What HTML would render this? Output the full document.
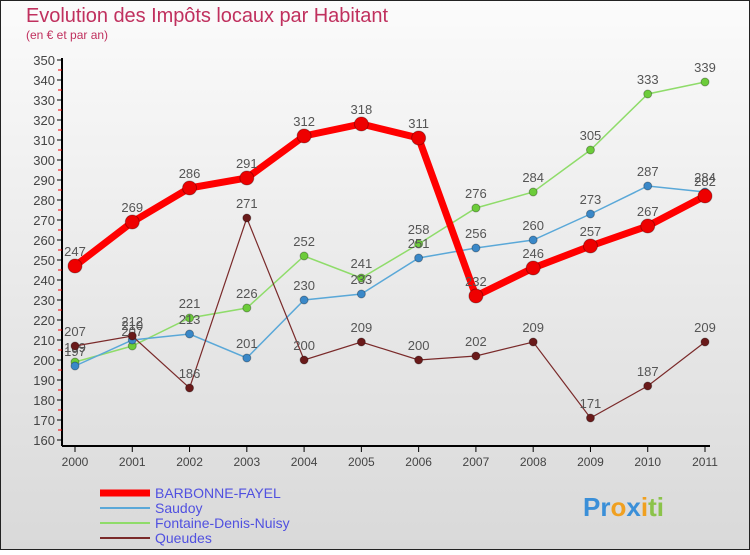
<!DOCTYPE html>
<html><head><meta charset="utf-8"><style>
body{margin:0;width:750px;height:550px;overflow:hidden;font-family:"Liberation Sans",sans-serif}
</style></head><body>
<svg id="c" width="750" height="550" xmlns="http://www.w3.org/2000/svg">
<defs><linearGradient id="bg" x1="0" y1="0" x2="0" y2="1"><stop offset="0" stop-color="#fbfbfb"/><stop offset="1" stop-color="#d9d9d9"/></linearGradient></defs>
<rect x="0.5" y="0.5" width="749" height="549" fill="url(#bg)" stroke="#222"/>
<text x="26" y="22" font-size="20" fill="#c0305e" textLength="362">Evolution des Impôts locaux par Habitant</text>
<text x="26" y="39" font-size="12" fill="#c0305e">(en € et par an)</text>
<g id="axes"></g><g id="series"></g><g id="legend"></g>
<text x="583" y="516" font-size="26" font-weight="bold"><tspan fill="#3a8fd8">Pr</tspan><tspan fill="#f0a020">o</tspan><tspan fill="#3a8fd8">x</tspan><tspan fill="#f0a020">i</tspan><tspan fill="#8bc34a">ti</tspan></text>
</svg>
<script>
const years=[2000,2001,2002,2003,2004,2005,2006,2007,2008,2009,2010,2011];
const barbonne=[247,269,286,291,312,318,311,232,246,257,267,282];
const saudoy=[197,210,213,201,230,233,251,256,260,273,287,284];
const fontaine=[199,207,221,226,252,241,258,276,284,305,333,339];
const queudes=[207,212,186,271,200,209,200,202,209,171,187,209];
const yTicks=[160,170,180,190,200,210,220,230,240,250,260,270,280,290,300,310,320,330,340,350];
const NS="http://www.w3.org/2000/svg";
const x=i=>75+i*(630/11);
const y=v=>440-(v-160)*2;
function mk(t,a,p){const e=document.createElementNS(NS,t);for(const k in a)e.setAttribute(k,a[k]);p.appendChild(e);return e;}
const ax=document.getElementById('axes');
let l=mk('line',{x1:62,y1:58,x2:62,y2:446,stroke:'#000','stroke-width':2},ax);


l=mk('line',{x1:62,y1:446,x2:710,y2:446,stroke:'#000','stroke-width':2},ax);


yTicks.forEach(v=>{
 mk('line',{x1:57,y1:y(v),x2:62,y2:y(v),stroke:'#000'},ax);
 if(v<350)mk('line',{x1:58,y1:y(v)-10,x2:62,y2:y(v)-10,stroke:'#e00'},ax);
 const t=mk('text',{x:55,y:y(v)+5,'font-size':13,fill:'#444','text-anchor':'end'},ax);t.textContent=v;
 
 
});
years.forEach((yr,i)=>{
 mk('line',{x1:x(i),y1:446,x2:x(i),y2:452,stroke:'#000'},ax);
 const t=mk('text',{x:x(i),y:466,'font-size':12,fill:'#444','text-anchor':'middle'},ax);t.textContent=yr;
 
 
});
const S=document.getElementById('series');
const defs=[[fontaine,'#8fdc6a','#6ccc3a',1.5,4,'fontaine'],[saudoy,'#5aa8d8','#3a88c8',1.5,4,'saudoy'],[queudes,'#7a2a2a','#6a1a1a',1.2,4,'queudes'],[barbonne,'#ff0000','#ee0000',7,7,'barbonne']];
defs.forEach(([d,c,f,w,r,n])=>{
 const g=mk('g',{},S);
 
 
 mk('polyline',{points:d.map((v,i)=>x(i)+','+y(v)).join(' '),fill:'none',stroke:c,'stroke-width':w},g);
 d.forEach((v,i)=>{
  const p=mk('circle',{cx:x(i),cy:y(v),r:r,fill:f,stroke:'rgba(0,0,0,0.3)'},g);
  
  
  const t=mk('text',{x:x(i),y:y(v)-10,'font-size':13,fill:'#555','text-anchor':'middle'},g);t.textContent=v;
  
  
 });
});
const L=document.getElementById('legend');
[['BARBONNE-FAYEL','#ff0000',7],['Saudoy','#5aa8d8',2],['Fontaine-Denis-Nuisy','#8fdc6a',2],['Queudes','#7a2a2a',2]].forEach(([n,c,w],i)=>{
 const yy=493+i*15;
 const g=mk('g',{},L);
 
 
 mk('line',{x1:100,y1:yy,x2:150,y2:yy,stroke:c,'stroke-width':w},g);
 const t=mk('text',{x:155,y:yy+5,'font-size':14,fill:'#5050e0'},g);t.textContent=n;
});
</script>
</body></html>
